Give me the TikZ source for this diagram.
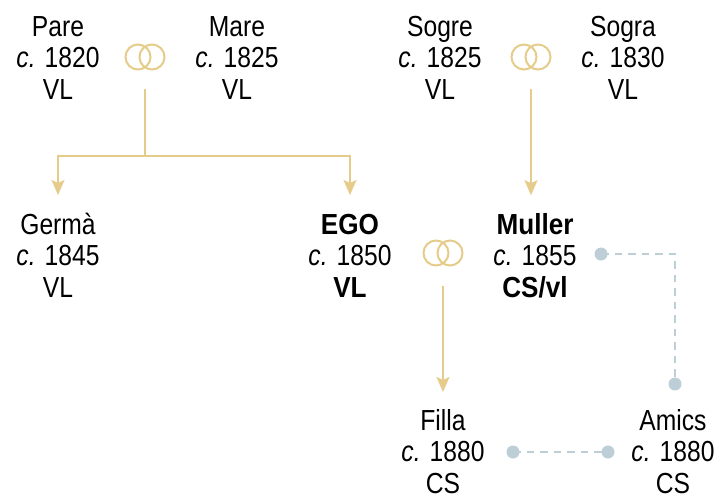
\documentclass[tikz,border=0pt]{standalone}
\usepackage{fontspec}
\setmainfont[FakeStretch=0.85, BoldFeatures={FakeStretch=0.9}]{Liberation Sans}
\usetikzlibrary{arrows.meta}
\definecolor{gold}{RGB}{229,204,138}
\definecolor{bluegray}{RGB}{190,206,215}
\newcommand\ringpair[2]{%
  \node[ringbox] (#1) at (#2) {};
  \draw[ringline] ([xshift=-7pt]#1.center) circle[radius=12.5pt]
                  ([xshift=7pt]#1.center) circle[radius=12.5pt];}
\begin{document}
\begin{tikzpicture}[x=1pt,y=1pt,
  person/.style={align=center, anchor=base, inner sep=0pt,
    font=\fontsize{29}{31.5}\selectfont},
  ringbox/.style={minimum width=42pt, minimum height=28pt, inner sep=0pt},
  ringline/.style={gold, line width=2pt},
  conn/.style={gold, line width=2pt, -{Stealth[length=15pt,width=13pt,inset=3pt]}},
  link/.style={bluegray, line width=2pt, dash pattern=on 7.5pt off 6pt},
  dot/.style={circle, fill=bluegray, inner sep=0pt, minimum size=13pt}]
\useasboundingbox (0,0) rectangle (722,-493);

% people (anchored at the baseline of their last line)
\node[person] (pare)   at (58,-99)   {Pare\\\textit{c.} 1820\\VL};
\node[person] (mare)   at (237,-99)  {Mare\\\textit{c.} 1825\\VL};
\node[person] (sogre)  at (440,-99)  {Sogre\\\textit{c.} 1825\\VL};
\node[person] (sogra)  at (623,-99)  {Sogra\\\textit{c.} 1830\\VL};
\node[person] (germa)  at (58,-297)  {Germà\\\textit{c.} 1845\\VL};
\node[person] (ego)    at (350,-297) {\textbf{EGO}\\\textit{c.} 1850\\\textbf{VL}};
\node[person] (muller) at (535,-297) {\textbf{Muller}\\\textit{c.} 1855\\\textbf{CS/vl}};
\node[person] (filla)  at (443,-493) {Filla\\\textit{c.} 1880\\CS};
\node[person] (amics)  at (673,-493) {Amics\\\textit{c.} 1880\\CS};

% marriage rings
\ringpair{r1}{145,-57}
\ringpair{r2}{531,-57}
\ringpair{r3}{443,-253}

% descent
\draw[gold, line width=2pt] ([yshift=-18pt]r1.south) -- ++(0,-67) coordinate (j1);
\draw[conn] (j1) -| ([yshift=102pt]germa.base);
\draw[conn] (j1) -| ([yshift=102pt]ego.base);
\draw[conn] ([yshift=-18pt]r2.south) -- ++(0,-106);
\draw[conn] ([yshift=-19pt]r3.south) -- ([yshift=101pt]filla.base);

% friendship links
\coordinate (m1) at (601,-254);
\coordinate (a1) at (675,-384);
\coordinate (f1) at (513,-452);
\coordinate (a2) at (608,-452);
\draw[link] (m1) -| (a1);
\draw[link] (f1) -- (a2);
\node[dot] (dm1) at (m1) {};
\node[dot] (da1) at (a1) {};
\node[dot] (df1) at (f1) {};
\node[dot] (da2) at (a2) {};
\end{tikzpicture}
\end{document}
